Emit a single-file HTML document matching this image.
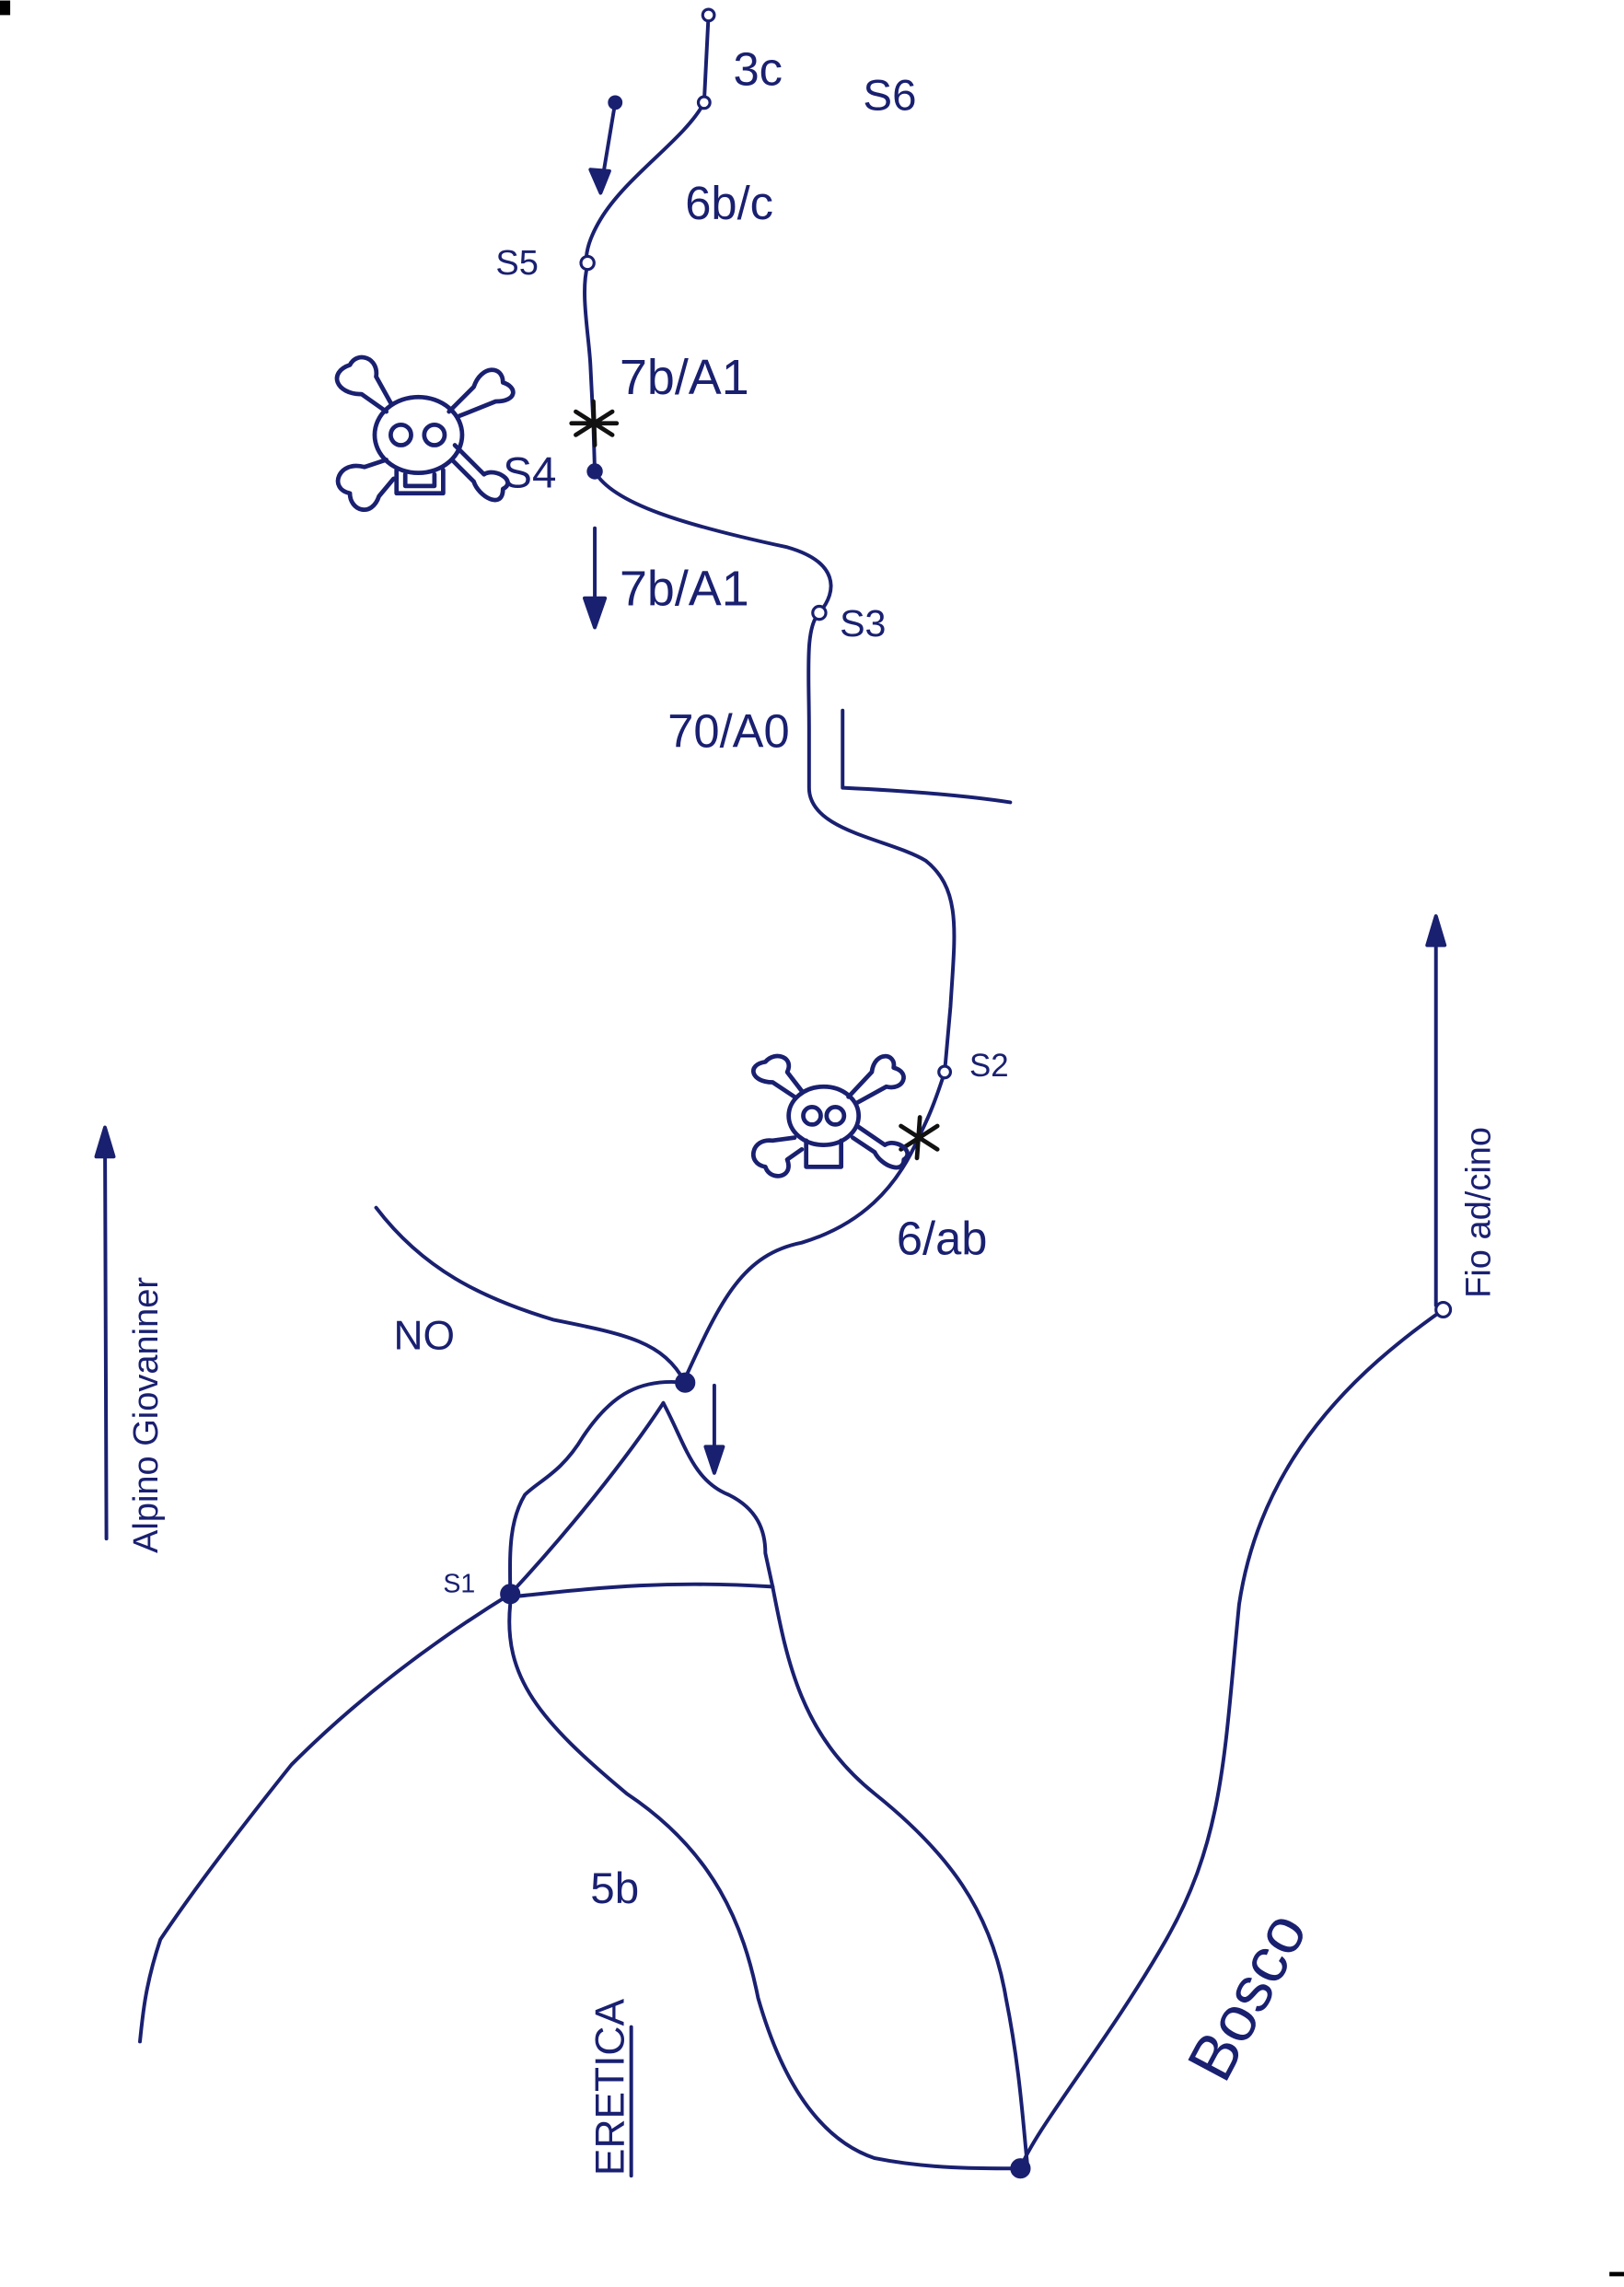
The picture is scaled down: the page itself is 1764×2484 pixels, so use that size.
<!DOCTYPE html>
<html><head><meta charset="utf-8"><style>
html,body{margin:0;padding:0;background:#fff}
svg{display:block}
text{font-family:"Liberation Sans",sans-serif;fill:#1a2070;font-weight:normal}
</style></head><body>
<svg width="1764" height="2484" viewBox="0 0 1114 1568" xmlns="http://www.w3.org/2000/svg">
<g fill="none" stroke="#1a2070" stroke-width="2.5" stroke-linecap="round" stroke-linejoin="round">
<path d="M486 10 L483 70 C470 95 430 120 412 150 C400 170 402 180 403 182 C398 200 404 230 405 250 L407 290 L408 323 C420 345 470 360 540 375 C575 385 575 405 562 420 C552 430 555 460 555 500 L555 540 C555 570 610 575 635 590 C660 610 655 640 652 690 L648 735 C640 760 635 770 630 780 C615 815 590 840 550 852 C510 860 495 890 470 945"/>
<path d="M422 70 L412 130"/>
<path d="M405 116 L412 132 L418 117 Z" fill="#1a2070"/>
<path d="M408 362 L408 428"/>
<path d="M401 410 L408 430 L415 410 Z" fill="#1a2070"/>
<path d="M578 487 L578 540 C620 542 660 545 693 550"/>
<path d="M258 828 C290 870 330 890 380 905 C430 915 455 920 470 948"/>
<path d="M470 948 C440 945 420 955 400 985 C385 1010 370 1015 360 1025 C348 1045 350 1070 350 1093"/>
<path d="M455 962 C430 1000 390 1050 350 1093"/>
<path d="M455 962 C470 990 475 1015 500 1025 C520 1035 525 1050 525 1065 L530 1088"/>
<path d="M490 950 L490 1008"/>
<path d="M484 992 L490 1010 L496 992 Z" fill="#1a2070"/>
<path d="M350 1095 C400 1090 450 1083 530 1088"/>
<path d="M530 1088 C540 1140 550 1190 600 1230 C650 1270 680 1310 690 1370 C700 1420 702 1460 705 1487"/>
<path d="M350 1100 C345 1150 370 1180 430 1230 C490 1270 510 1320 520 1370 C540 1440 570 1470 600 1480 C640 1488 680 1487 700 1487"/>
<path d="M350 1093 C290 1130 240 1170 200 1210 C160 1260 130 1300 110 1330 C100 1360 98 1380 96 1400"/>
<path d="M700 1487 C710 1460 760 1400 800 1330 C840 1260 840 1200 850 1100 C865 1000 930 940 990 898"/>
<path d="M985 895 L985 632"/>
<path d="M979 648 L985 628 L991 648 Z" fill="#1a2070"/>
<path d="M73 1055 L72 777"/>
<path d="M66 793 L72 773 L78 793 Z" fill="#1a2070"/>
<path d="M433 1390 L433 1492"/>
<g stroke="#111" stroke-width="3">
<path d="M407 275 L408 305 M395 282 L420 298 M395 298 L420 282 M392 290 L423 290"/>
<path d="M631 766 L629 794 M618 772 L643 788 M618 788 L643 772"/>
</g>
<g stroke-width="3">
<ellipse cx="287" cy="298" rx="30" ry="26"/>
<circle cx="275" cy="298" r="7"/><circle cx="298" cy="298" r="7"/>
<path d="M272 322 L272 338 L304 338 L304 322 M278 325 L278 333 L298 333 L298 325"/>
<path d="M265 282 L248 270 C230 270 225 255 240 250 C245 240 260 245 258 258 L268 276"/>
<path d="M308 282 L325 265 C330 250 345 250 345 262 C355 265 355 275 340 275 L315 285"/>
<path d="M265 315 L250 320 C232 315 225 335 240 338 C240 350 255 355 260 340 L270 328"/>
<path d="M310 315 L325 330 C328 340 345 350 345 335 C355 330 340 320 332 325 L312 305"/>
</g>
<g stroke-width="3">
<ellipse cx="565" cy="765" rx="24" ry="20"/>
<circle cx="557" cy="765" r="6"/><circle cx="573" cy="765" r="6"/>
<path d="M553 782 L553 800 L577 800 L577 782"/>
<path d="M545 752 L530 742 C515 742 512 730 525 728 C532 720 545 725 540 735 L550 748"/>
<path d="M582 752 L598 735 C600 720 615 722 613 732 C625 735 620 748 608 745 L588 756"/>
<path d="M545 780 L530 782 C515 780 512 798 525 800 C528 810 545 808 540 795 L550 788"/>
<path d="M585 780 L600 790 C605 800 620 805 620 795 C628 790 615 780 607 785 L588 772"/>
</g>
</g>
<g fill="#1a2070" stroke="#1a2070" stroke-width="2">
<circle cx="486" cy="10" r="4" fill="#fff"/><circle cx="483" cy="70" r="4" fill="#fff"/>
<circle cx="422" cy="70" r="4"/><circle cx="403" cy="180" r="4.5" fill="#fff"/>
<circle cx="408" cy="323" r="4.5"/><circle cx="562" cy="420" r="4.5" fill="#fff"/>
<circle cx="648" cy="735" r="4" fill="#fff"/><circle cx="470" cy="948" r="6"/>
<circle cx="350" cy="1093" r="6"/><circle cx="700" cy="1487" r="6"/>
<circle cx="990" cy="898" r="5" fill="#fff"/>
</g>
<rect x="0" y="0" width="7" height="10" fill="#000"/>
<rect x="1104" y="1558" width="10" height="3" fill="#000"/>
<text x="503" y="58" font-size="32">3c</text>
<text x="592" y="75" font-size="30">S6</text>
<text x="470" y="150" font-size="32">6b/c</text>
<text x="340" y="188" font-size="24">S5</text>
<text x="425" y="270" font-size="34">7b/A1</text>
<text x="345" y="334" font-size="30">S4</text>
<text x="425" y="415" font-size="34">7b/A1</text>
<text x="576" y="436" font-size="26">S3</text>
<text x="458" y="512" font-size="32">70/A0</text>
<text x="665" y="738" font-size="22">S2</text>
<text x="615" y="860" font-size="32">6/ab</text>
<text x="270" y="925" font-size="28">NO</text>
<text x="304" y="1092" font-size="18">S1</text>
<text x="405" y="1305" font-size="30">5b</text>
<text transform="translate(428,1492) rotate(-90)" font-size="28">ERETICA</text>
<text transform="translate(840,1430) rotate(-62)" font-size="44">Bosco</text>
<text transform="translate(1022,890) rotate(-90)" font-size="24">Fio ad/cino</text>
<text transform="translate(108,1065) rotate(-90)" font-size="24">Alpino Giovaniner</text>
</svg>
</body></html>
